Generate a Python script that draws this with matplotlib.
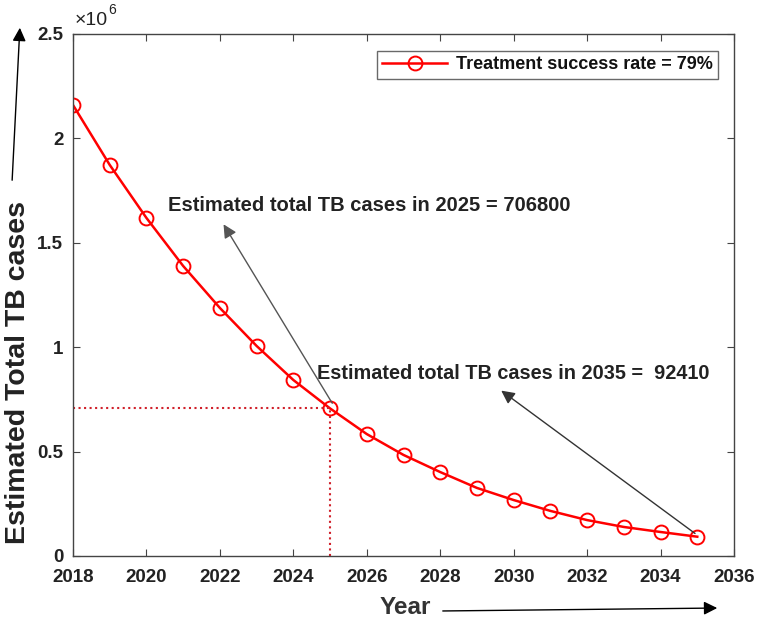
import matplotlib

matplotlib.use("Agg")
import matplotlib.pyplot as plt
from matplotlib.patches import FancyArrowPatch
import numpy as np

years = np.arange(2018, 2036)
cases = np.array([2160000, 1873000, 1619000, 1389000, 1188000, 1006000, 843000,
                  706800, 584000, 484000, 402000, 326000, 268000, 216000,
                  172000, 139000, 115000, 92410])
legend_label = "Treatment success rate = 79%"
note_2025 = "Estimated total TB cases in 2025 = 706800"
note_2035 = "Estimated total TB cases in 2035 =  92410"

plt.rcParams["font.family"] = ["Liberation Sans", "DejaVu Sans"]

fig = plt.figure(figsize=(7.62, 6.23), dpi=100)
ax = fig.add_axes([73 / 762, 1 - 556 / 623, 661 / 762, 522 / 623])

ax.plot(years, cases, color="red", linewidth=1.8, marker="o", markersize=10,
        markerfacecolor="none", markeredgecolor="red", markeredgewidth=1.4,
        label=legend_label)

# dotted guide lines to the 2025 point
ax.plot([2018, 2025], [cases[7], cases[7]], color="#d0202a", linestyle=":", linewidth=1.5)
ax.plot([2025, 2025], [0, cases[7]], color="#d0202a", linestyle=":", linewidth=1.5)

ax.set_xlim(2018, 2036)
ax.set_ylim(0, 2.5e6)
ax.set_xticks(np.arange(2018, 2037, 2))
ax.set_yticks([0, 0.5e6, 1e6, 1.5e6, 2e6, 2.5e6])
ax.set_yticklabels(["0", "0.5", "1", "1.5", "2", "2.5"])
ax.tick_params(direction="in", labelsize=13.5, top=True, right=True, length=5,
               color="#444444", pad=7)
ax.tick_params(axis="x", pad=9)
for s in ax.spines.values():
    s.set_color("#444444")
    s.set_linewidth(1.0)
for lab in ax.get_xticklabels() + ax.get_yticklabels():
    lab.set_fontweight("bold")
    lab.set_color("#222222")

ax.text(0.003, 1.01, "\u00d710", transform=ax.transAxes, fontsize=14,
        ha="left", va="bottom", color="#222222")
ax.text(0.054, 1.032, "6", transform=ax.transAxes, fontsize=10,
        ha="left", va="bottom", color="#222222")

ax.annotate("", xy=(2022.06, 1.6e6), xytext=(2025.1, 0.72e6),
            arrowprops=dict(arrowstyle="-|>", color="#555555", lw=1.0,
                            mutation_scale=20))
ax.text(2020.59, 1.68e6, note_2025, fontsize=14.5, fontweight="bold",
        ha="left", va="center", color="#222222")
ax.annotate("", xy=(2029.6, 0.8e6), xytext=(2035.0, 0.1e6),
            arrowprops=dict(arrowstyle="-|>", color="#333333", lw=1.0,
                            mutation_scale=20))
ax.text(2024.65, 0.876e6, note_2035, fontsize=14.3, fontweight="bold",
        ha="left", va="center", color="#222222")

leg = ax.legend(loc="upper right", fontsize=13, frameon=True, fancybox=False,
                edgecolor="#444444", borderpad=0.3, handlelength=3.6,
                handletextpad=0.5, bbox_to_anchor=(0.99, 0.985))
leg.get_frame().set_linewidth(1.0)
for t in leg.get_texts():
    t.set_fontweight("bold")
    t.set_color("#111111")

fig.text(18 / 762, 1 - 372 / 623, "Estimated Total TB cases", rotation=90,
         fontsize=20.5, fontweight="bold", ha="center", va="center",
         color="#222222")
fig.text(405 / 762, 1 - 607 / 623, "Year", fontsize=17.5, fontweight="bold",
         ha="center", va="center", color="#333333")

fig.add_artist(FancyArrowPatch(
    (12 / 762, 1 - 183 / 623), (20 / 762, 1 - 25 / 623),
    transform=fig.transFigure, arrowstyle="-|>", mutation_scale=20,
    color="black", lw=1.0))
fig.add_artist(FancyArrowPatch(
    (440 / 762, 1 - 611 / 623), (720 / 762, 1 - 608 / 623),
    transform=fig.transFigure, arrowstyle="-|>", mutation_scale=20,
    color="black", lw=1.0))

fig.savefig("out.png", dpi=100)
